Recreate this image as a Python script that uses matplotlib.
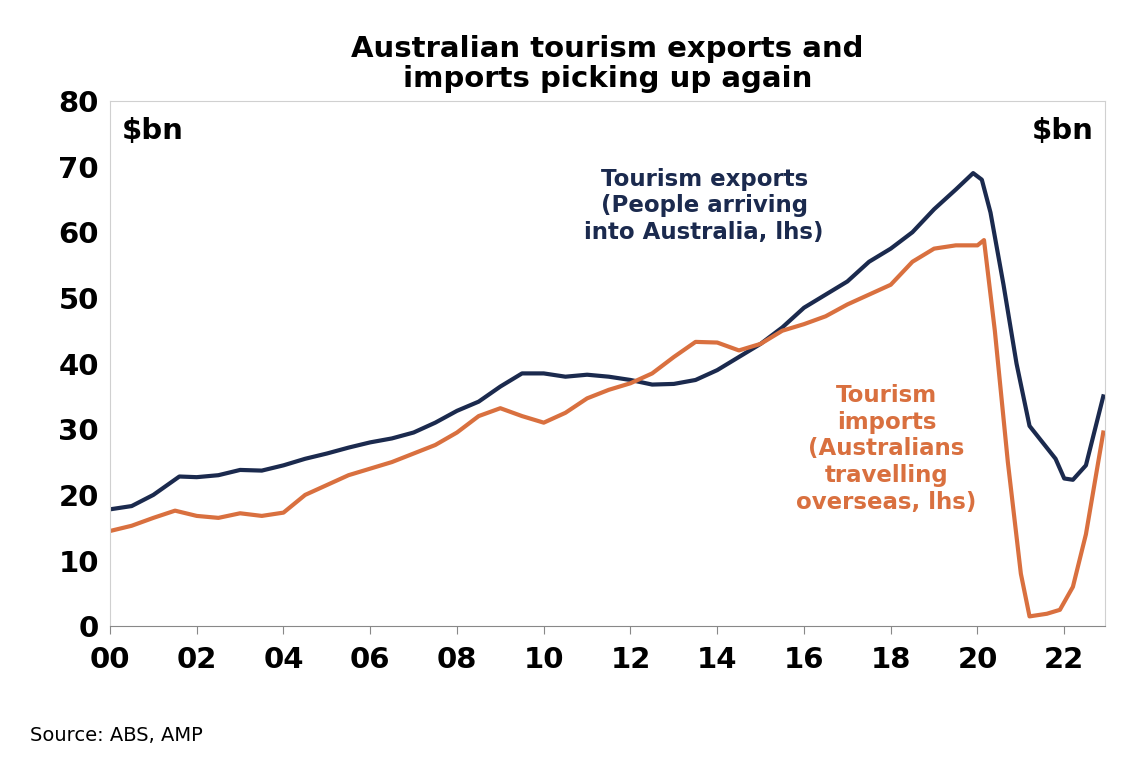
import matplotlib
matplotlib.use("Agg")
import matplotlib.pyplot as plt

exp_x = [2000,2000.5,2001,2001.6,2002,2002.5,2003,2003.5,2004,2004.5,2005,2005.5,2006,2006.5,2007,2007.5,2008,2008.5,2009,2009.5,2010,2010.5,2011,2011.5,2012,2012.5,2013,2013.5,2014,2014.5,2015,2015.5,2016,2016.5,2017,2017.5,2018,2018.5,2019,2019.5,2019.9,2020.1,2020.3,2020.6,2020.9,2021.2,2021.5,2021.8,2022.0,2022.2,2022.5,2022.9]
exp_y = [17.8,18.3,20,22.8,22.7,23,23.8,23.7,24.5,25.5,26.3,27.2,28,28.6,29.5,31,32.8,34.2,36.5,38.5,38.5,38,38.3,38,37.5,36.8,36.9,37.5,39,41,43,45.5,48.5,50.5,52.5,55.5,57.5,60,63.5,66.5,69,68,63,52,40,30.5,28,25.5,22.5,22.3,24.5,35]
imp_x = [2000,2000.5,2001,2001.5,2002,2002.5,2003,2003.5,2004,2004.5,2005,2005.5,2006,2006.5,2007,2007.5,2008,2008.5,2009,2009.5,2010,2010.5,2011,2011.5,2012,2012.5,2013,2013.5,2014,2014.5,2015,2015.5,2016,2016.5,2017,2017.5,2018,2018.5,2019,2019.5,2020.0,2020.15,2020.4,2020.7,2021.0,2021.2,2021.6,2021.9,2022.2,2022.5,2022.9]
imp_y = [14.5,15.3,16.5,17.6,16.8,16.5,17.2,16.8,17.3,20,21.5,23,24,25,26.3,27.6,29.5,32,33.2,32,31,32.5,34.7,36,37,38.5,41,43.3,43.2,42,43,45,46,47.2,49,50.5,52,55.5,57.5,58,58,58.8,45,25,8,1.5,1.9,2.5,6,14,29.5]
xticks = [2000,2002,2004,2006,2008,2010,2012,2014,2016,2018,2020,2022]
xlabels = ["00","02","04","06","08","10","12","14","16","18","20","22"]

navy = "#1b2a4e"; orange = "#d9703f"
fig = plt.figure(figsize=(11.28,7.76), dpi=100)
ax = fig.add_axes([0.0975,0.193,0.8825,0.677])
ax.plot(exp_x, exp_y, color=navy, lw=3)
ax.plot(imp_x, imp_y, color=orange, lw=3)
ax.set_xlim(2000, 2022.95); ax.set_ylim(0, 80)
ax.set_xticks(xticks); ax.set_xticklabels(xlabels)
ax.set_yticks(range(0,81,10))
ax.tick_params(labelsize=21, length=0, pad=8)
for t in ax.get_xticklabels()+ax.get_yticklabels(): t.set_fontweight("bold")
for s in ax.spines.values(): s.set_color("#d0d0d0")
ax.spines["bottom"].set_color("#888888")
ax.tick_params(axis="x", length=6, direction="out", color="#888888")
ax.set_title("Australian tourism exports and\nimports picking up again", fontsize=21, fontweight="heavy", pad=10, linespacing=1.1)
ax.text(0.012, 0.97, "$bn", transform=ax.transAxes, fontsize=21, fontweight="bold", va="top", ha="left")
ax.text(0.988, 0.97, "$bn", transform=ax.transAxes, fontsize=21, fontweight="bold", va="top", ha="right")
ax.text(2013.7, 64, "Tourism exports\n(People arriving\ninto Australia, lhs)", color=navy, fontsize=16.5, fontweight="bold", ha="center", va="center", linespacing=1.2)
ax.text(2017.9, 27, "Tourism\nimports\n(Australians\ntravelling\noverseas, lhs)", color=orange, fontsize=16.5, fontweight="bold", ha="center", va="center", linespacing=1.2)
fig.text(0.027, 0.045, "Source: ABS, AMP", fontsize=14)
fig.savefig("out.png", dpi=100)
